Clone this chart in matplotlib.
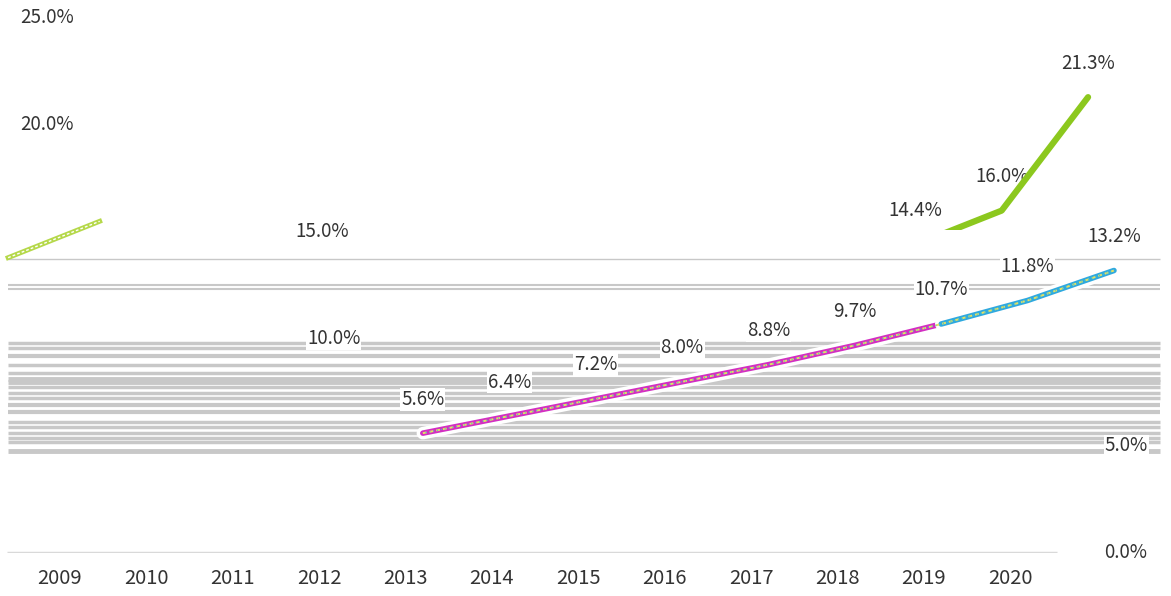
import numpy as np
import matplotlib
matplotlib.use("Agg")
import matplotlib.pyplot as plt
import matplotlib.patheffects as pe
from matplotlib.patches import Rectangle

# categories on the x axis
years = [2009, 2010, 2011, 2012, 2013, 2014, 2015, 2016, 2017, 2018, 2019, 2020]

# lower series (2013 onwards)
low_years = [2013, 2014, 2015, 2016, 2017, 2018, 2019, 2020, 2021]
low_vals = [5.6, 6.4, 7.2, 8.0, 8.8, 9.7, 10.7, 11.8, 13.2]

# upper series (2019 onwards)
up_years = [2019, 2020, 2021]
up_vals = [14.4, 16.0, 21.3]

# stray fragment of the upper line at the left edge
frag_years = [2008.4, 2009.46]
frag_vals = [13.8, 15.5]

# y axis labels
y_ticks = [25.0, 20.0, 15.0, 10.0, 5.0, 0.0]

# grey streak levels across the plot
streak_levels = [13.74, 12.52, 12.34, 9.81, 9.58, 9.21, 8.79, 8.41, 8.15, 8.0,
                 7.76, 7.48, 7.24, 6.92, 6.59, 6.12, 5.89, 5.61, 5.37, 5.19, 4.77]
streak_widths = [1, 1.5, 1.5, 2.5, 2.5, 3, 2.5, 2.5, 3.5, 3.5,
                 2.5, 2.5, 2.5, 3, 3, 2.5, 2.5, 2.5, 2.5, 2.5, 3.5]

txt_color = "#333333"
font = ["Noto Sans CJK SC", "DejaVu Sans"]

fig = plt.figure(figsize=(11.71, 5.96), dpi=100)
ax = fig.add_axes([0, 43 / 596, 1, 553 / 596])
ax.set_xlim(-0.694, 12.86)
ax.set_ylim(0, 25.84)
ax.axis("off")

x0 = years[0]

# streaks
for lvl, w in zip(streak_levels, streak_widths):
    ax.hlines(lvl, -0.6, 12.73, color="#c8c8c8", lw=w, zorder=1)

# baseline
ax.hlines(0, -0.61, 11.54, color="#d9d9d9", lw=2.5, zorder=1)

# year labels
for i, y in enumerate(years):
    ax.text(i, -1.17, str(y), ha="center", va="center", fontsize=14.5,
            color=txt_color, family=font, clip_on=False)

# y labels (scattered as in the picture)
ylab_x = [-0.463, -0.463, 2.72, 2.86, 12.09, 12.09]
for v, xl in zip(y_ticks, ylab_x):
    ax.text(xl, v, f"{v:.1f}%", ha="left", va="center", fontsize=13.5,
            color=txt_color, family=font, zorder=2,
            bbox=dict(boxstyle="square,pad=0.05", fc="white", ec="none"))

# lower series
lx = np.array(low_years) - x0 + 0.2
ly = np.array(low_vals)
halo = [pe.Stroke(linewidth=9, foreground="white"), pe.Normal()]
ax.plot(lx[:7], ly[:7], color="#d22fc2", lw=4, solid_capstyle="round",
        zorder=3, path_effects=halo)
ax.plot(lx[6:], ly[6:], color="#2fa9df", lw=4, solid_capstyle="round",
        zorder=3, path_effects=halo)
ax.plot(lx, ly, color="#e8e060", lw=1.4, ls=(0, (2, 1.5)), zorder=4)
ax.plot(lx, ly, color="#40c8d0", lw=0.8, ls=(1, (1, 2.5)), zorder=4)

# upper series, cut off below the glitch line
ux = np.array(up_years) - x0 - 0.1
uy = np.array(up_vals)
gl, = ax.plot(ux, uy, color="#8cc81e", lw=4.5, solid_capstyle="round", zorder=3)
clip = Rectangle((-1, 15.1), 20, 20, transform=ax.transData)
gl.set_clip_path(clip)

# fragment at left
fx = np.array(frag_years) - x0
fy = np.array(frag_vals)
ax.plot(fx, fy, color="#b5d84a", lw=3.5, zorder=3)
ax.plot(fx, fy, color="white", lw=1.0, ls=(0, (2, 1.5)), zorder=4)

# data labels
for xs, ys in [(lx, ly), (ux, uy)]:
    for xv, yv in zip(xs, ys):
        ax.annotate(f"{yv:.1f}%", (xv, yv), xytext=(0, 24.5),
                    textcoords="offset points", ha="center", va="center",
                    fontsize=13.5, color=txt_color, family=font, zorder=2.5,
                    bbox=dict(boxstyle="square,pad=0.05", fc="white", ec="none"))

fig.savefig("out.png", dpi=100, facecolor="white")
